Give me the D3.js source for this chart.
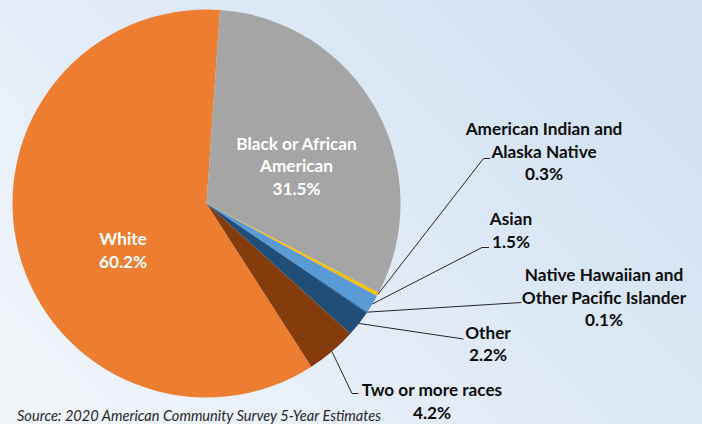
<!DOCTYPE html>
<html>
<head>
<meta charset="utf-8">
<script src="https://cdn.jsdelivr.net/npm/d3@7"></script>
<style>
  html, body { margin: 0; padding: 0; overflow: hidden; background: #fff; }
  svg { display: block; }
</style>
</head>
<body>
<svg id="chart" width="702" height="424"></svg>
<script>
// Population by race, 2020 ACS 5-year estimates (percent of total)
const categories = [
  "White",
  "Black or African American",
  "American Indian and Alaska Native",
  "Asian",
  "Native Hawaiian and Other Pacific Islander",
  "Other",
  "Two or more races"
];
const shares = [60.2, 31.5, 0.3, 1.5, 0.1, 2.2, 4.2];
const labelLines = [
  ["White"],
  ["Black or African", "American"],
  ["American Indian and", "Alaska Native"],
  ["Asian"],
  ["Native Hawaiian and", "Other Pacific Islander"],
  ["Other"],
  ["Two or more races"]
];
const sliceColors = ["#ED7D31", "#A5A5A5", "#FFC000", "#5B9BD5", "#2E75B6", "#1F4E79", "#843C0C"];
const sourceNote = "Source: 2020 American Community Survey 5-Year Estimates";

// Layout ---------------------------------------------------------------
const W = 702, H = 424;
const cx = 206.5, cy = 203.5, R = 194;
const firstSliceEnd = 4.0;          // degrees clockwise from 12 o'clock where "White" ends
const lineGap = 22.6;
const labelFont = "Lato, 'Noto Sans', sans-serif";

// label placement: centre x, first baseline y, and the leader elbow/end points
const labelPlacement = [
  { inside: true,  x: 123,   y: 245 },
  { inside: true,  x: 296.5, y: 149.5 },
  { inside: false, x: 544,   y: 135,   leader: [[483.5, 158.5], [490, 158.5]] },
  { inside: false, x: 511,   y: 225,   leader: [[482, 247.5], [489, 247.5]] },
  { inside: false, x: 604,   y: 281,   leader: [[521.5, 302.5]] },
  { inside: false, x: 488,   y: 338.5, leader: [[463.5, 339]] },
  { inside: false, x: 432,   y: 396,   leader: [[352, 393.5], [358.5, 393.5]] }
];

const svg = d3.select("#chart");

// soft blue background wash
const defs = svg.append("defs");
const bg = defs.append("linearGradient")
  .attr("id", "bgWash")
  .attr("x1", "0%").attr("y1", "90%")
  .attr("x2", "100%").attr("y2", "30%");
bg.append("stop").attr("offset", "0%").attr("stop-color", "#F2F6FB");
bg.append("stop").attr("offset", "55%").attr("stop-color", "#DFEAF6");
bg.append("stop").attr("offset", "100%").attr("stop-color", "#D2E2F2");
svg.append("rect").attr("width", W).attr("height", H).attr("fill", "url(#bgWash)");

const rows = categories.map((c, i) => ({ category: c, value: shares[i], lines: labelLines[i], color: sliceColors[i], place: labelPlacement[i] }));

const total = d3.sum(shares);
const toRad = d => d * Math.PI / 180;
const startDeg = firstSliceEnd - 360 * shares[0] / total;
const pie = d3.pie()
  .sort(null)
  .value(d => d.value)
  .startAngle(toRad(startDeg))
  .endAngle(toRad(startDeg + 360));
const arcs = pie(rows);

const arc = d3.arc().innerRadius(0).outerRadius(R);
const edge = d3.arc().innerRadius(R).outerRadius(R);

const g = svg.append("g").attr("transform", `translate(${cx},${cy})`);
g.selectAll("path.slice")
  .data(arcs)
  .join("path")
  .attr("class", "slice")
  .attr("d", arc)
  .attr("fill", d => d.data.color);

// leader lines from the rim of each small slice to its label
const fmt = v => d3.format(".1f")(v) + "%";
const leaderLine = d3.line();
svg.selectAll("path.leader")
  .data(arcs.filter(d => !d.data.place.inside))
  .join("path")
  .attr("class", "leader")
  .attr("d", d => {
    const [ex, ey] = edge.centroid(d);
    return leaderLine([[cx + ex, cy + ey], ...d.data.place.leader]);
  })
  .attr("fill", "none")
  .attr("stroke", "#262626")
  .attr("stroke-width", 1);

// data labels
const labels = svg.selectAll("text.label")
  .data(arcs)
  .join("text")
  .attr("class", "label")
  .attr("text-anchor", "middle")
  .attr("font-family", labelFont)
  .attr("font-weight", 700)
  .attr("font-size", 17.2)
  .attr("fill", d => d.data.place.inside ? "#FFFFFF" : "#0D0D0D");

labels.each(function (d) {
  const t = d3.select(this);
  const lines = [...d.data.lines, fmt(d.data.value)];
  lines.forEach((s, i) => {
    t.append("tspan")
      .attr("x", d.data.place.x)
      .attr("y", d.data.place.y + i * lineGap)
      .text(s);
  });
});

// source note
svg.append("text")
  .attr("x", 17)
  .attr("y", 420.5)
  .attr("font-family", labelFont)
  .attr("font-style", "italic")
  .attr("font-size", 14.6)
  .attr("fill", "#262626")
  .text(sourceNote);
</script>
</body>
</html>
